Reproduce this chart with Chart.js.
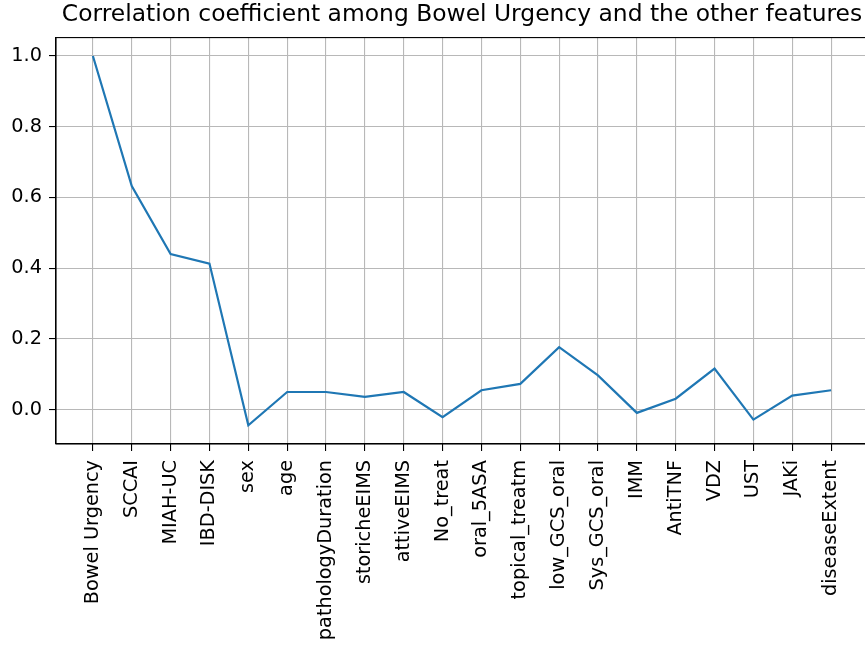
<!DOCTYPE html>
<html>
<head>
<meta charset="utf-8">
<script src="https://cdn.jsdelivr.net/npm/chart.js@4"></script>
<style>
  html, body { margin: 0; padding: 0; background: #fff; overflow: hidden; }
  #wrap { width: 870px; height: 646px; }
</style>
</head>
<body>
<div id="wrap"><canvas id="corrChart" width="870" height="646"></canvas></div>
<script>
// feature names along the x axis
const features = ['Bowel Urgency', 'SCCAI', 'MIAH-UC', 'IBD-DISK', 'sex', 'age',
  'pathologyDuration', 'storicheEIMS', 'attiveEIMS', 'No_treat', 'oral_5ASA',
  'topical_treatm', 'low_GCS_oral', 'Sys_GCS_oral', 'IMM', 'AntiTNF', 'VDZ',
  'UST', 'JAKi', 'diseaseExtent'];
// correlation with Bowel Urgency
const corr = [1.0, 0.632, 0.44, 0.413, -0.044, 0.05, 0.05, 0.036, 0.05, -0.021,
  0.055, 0.073, 0.177, 0.097, -0.009, 0.031, 0.116, -0.028, 0.04, 0.055];
const yTicks = [0.0, 0.2, 0.4, 0.6, 0.8, 1.0];

const FONT = 'DejaVu Sans';

// matplotlib-ish: full box round the plot, title centred over the axes
const boxPlugin = {
  id: 'box',
  afterLayout(chart) {
    const tb = chart.titleBlock;
    if (tb) {
      const a = chart.chartArea;
      const mid = (a.left + a.right) / 2;
      const half = (tb.right - tb.left) / 2;
      tb.left = mid - half;
      tb.right = mid + half;
    }
  },
  afterDraw(chart) {
    const { ctx, chartArea: a } = chart;
    ctx.save();
    ctx.strokeStyle = '#000';
    ctx.lineWidth = 1.1;
    ctx.strokeRect(a.left, a.top, a.right - a.left, a.bottom - a.top);
    ctx.restore();
  }
};

const ctx = document.getElementById('corrChart').getContext('2d');
new Chart(ctx, {
  type: 'line',
  data: {
    datasets: [{
      data: corr.map((v, i) => ({ x: i, y: v })),
      borderColor: '#1f77b4',
      borderWidth: 2.2,
      pointRadius: 0,
      tension: 0,
      fill: false
    }]
  },
  options: {
    responsive: false,
    animation: false,
    layout: { padding: { left: 0, right: 2, top: 0, bottom: 0 } },
    plugins: {
      legend: { display: false },
      tooltip: { enabled: false },
      title: {
        display: true,
        text: 'Correlation coefficient among Bowel Urgency and the other features',
        color: '#000',
        font: { family: FONT, size: 23.4, weight: 'normal', lineHeight: 1.2 },
        padding: { top: 1, bottom: 8.5 }
      }
    },
    scales: {
      x: {
        type: 'linear',
        min: -0.95,
        max: 19.95,
        afterBuildTicks: (s) => { s.ticks = features.map((f, i) => ({ value: i })); },
        afterFit: (s) => { s.height = 202; s.paddingLeft = 0; s.paddingRight = 0; },
        ticks: {
          callback: (v) => features[v],
          autoSkip: false,
          minRotation: 90,
          maxRotation: 90,
          padding: 9,
          color: '#000',
          font: { family: FONT, size: 19.3 }
        },
        grid: { color: '#b8b8b8', lineWidth: 1.1, tickLength: 7, tickColor: '#000', tickWidth: 1.1 },
        border: { color: '#000', width: 1.1 }
      },
      y: {
        min: -0.097,
        max: 1.052,
        afterBuildTicks: (s) => { s.ticks = yTicks.map(v => ({ value: v })); },
        afterFit: (s) => { s.width = 56; s.paddingTop = 0; s.paddingBottom = 0; },
        ticks: {
          callback: (v) => v.toFixed(1),
          padding: 7,
          color: '#000',
          font: { family: FONT, size: 19.3 }
        },
        grid: { color: '#b8b8b8', lineWidth: 1.1, tickLength: 7, tickColor: '#000', tickWidth: 1.1 },
        border: { color: '#000', width: 1.1 }
      }
    }
  },
  plugins: [boxPlugin]
});
</script>
</body>
</html>
